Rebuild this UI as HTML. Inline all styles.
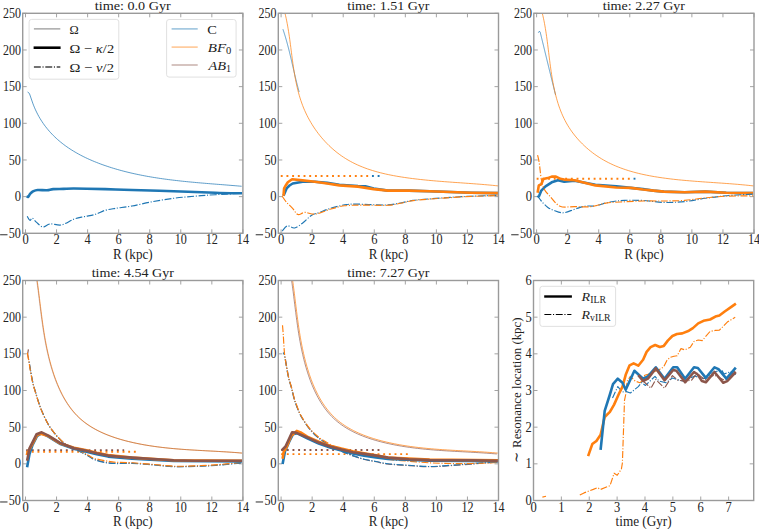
<!DOCTYPE html><html><head><meta charset="utf-8"><style>html,body{margin:0;padding:0;background:#fff;overflow:hidden}svg{display:block}</style></head><body><svg width="759" height="529" viewBox="0 0 759 529" style="font-family: &quot;Liberation Serif&quot;, serif" fill="#222">
<rect width="759" height="529" fill="#fff"/>
<line x1="25.5" y1="233.3" x2="25.5" y2="229.3" stroke="#9a9a9a" stroke-width="0.9"/>
<line x1="25.5" y1="13.3" x2="25.5" y2="17.3" stroke="#9a9a9a" stroke-width="0.9"/>
<line x1="56.55" y1="233.3" x2="56.55" y2="229.3" stroke="#9a9a9a" stroke-width="0.9"/>
<line x1="56.55" y1="13.3" x2="56.55" y2="17.3" stroke="#9a9a9a" stroke-width="0.9"/>
<line x1="87.61" y1="233.3" x2="87.61" y2="229.3" stroke="#9a9a9a" stroke-width="0.9"/>
<line x1="87.61" y1="13.3" x2="87.61" y2="17.3" stroke="#9a9a9a" stroke-width="0.9"/>
<line x1="118.67" y1="233.3" x2="118.67" y2="229.3" stroke="#9a9a9a" stroke-width="0.9"/>
<line x1="118.67" y1="13.3" x2="118.67" y2="17.3" stroke="#9a9a9a" stroke-width="0.9"/>
<line x1="149.73" y1="233.3" x2="149.73" y2="229.3" stroke="#9a9a9a" stroke-width="0.9"/>
<line x1="149.73" y1="13.3" x2="149.73" y2="17.3" stroke="#9a9a9a" stroke-width="0.9"/>
<line x1="180.78" y1="233.3" x2="180.78" y2="229.3" stroke="#9a9a9a" stroke-width="0.9"/>
<line x1="180.78" y1="13.3" x2="180.78" y2="17.3" stroke="#9a9a9a" stroke-width="0.9"/>
<line x1="211.84" y1="233.3" x2="211.84" y2="229.3" stroke="#9a9a9a" stroke-width="0.9"/>
<line x1="211.84" y1="13.3" x2="211.84" y2="17.3" stroke="#9a9a9a" stroke-width="0.9"/>
<line x1="242.9" y1="233.3" x2="242.9" y2="229.3" stroke="#9a9a9a" stroke-width="0.9"/>
<line x1="242.9" y1="13.3" x2="242.9" y2="17.3" stroke="#9a9a9a" stroke-width="0.9"/>
<line x1="22.7" y1="233.3" x2="26.7" y2="233.3" stroke="#9a9a9a" stroke-width="0.9"/>
<line x1="242.9" y1="233.3" x2="238.9" y2="233.3" stroke="#9a9a9a" stroke-width="0.9"/>
<line x1="22.7" y1="196.63" x2="26.7" y2="196.63" stroke="#9a9a9a" stroke-width="0.9"/>
<line x1="242.9" y1="196.63" x2="238.9" y2="196.63" stroke="#9a9a9a" stroke-width="0.9"/>
<line x1="22.7" y1="159.97" x2="26.7" y2="159.97" stroke="#9a9a9a" stroke-width="0.9"/>
<line x1="242.9" y1="159.97" x2="238.9" y2="159.97" stroke="#9a9a9a" stroke-width="0.9"/>
<line x1="22.7" y1="123.3" x2="26.7" y2="123.3" stroke="#9a9a9a" stroke-width="0.9"/>
<line x1="242.9" y1="123.3" x2="238.9" y2="123.3" stroke="#9a9a9a" stroke-width="0.9"/>
<line x1="22.7" y1="86.63" x2="26.7" y2="86.63" stroke="#9a9a9a" stroke-width="0.9"/>
<line x1="242.9" y1="86.63" x2="238.9" y2="86.63" stroke="#9a9a9a" stroke-width="0.9"/>
<line x1="22.7" y1="49.97" x2="26.7" y2="49.97" stroke="#9a9a9a" stroke-width="0.9"/>
<line x1="242.9" y1="49.97" x2="238.9" y2="49.97" stroke="#9a9a9a" stroke-width="0.9"/>
<line x1="22.7" y1="13.3" x2="26.7" y2="13.3" stroke="#9a9a9a" stroke-width="0.9"/>
<line x1="242.9" y1="13.3" x2="238.9" y2="13.3" stroke="#9a9a9a" stroke-width="0.9"/>
<text x="25.5" y="244.4" font-size="13.7" text-anchor="middle" textLength="6.25" lengthAdjust="spacingAndGlyphs">0</text>
<text x="56.55" y="244.4" font-size="13.7" text-anchor="middle" textLength="6.25" lengthAdjust="spacingAndGlyphs">2</text>
<text x="87.61" y="244.4" font-size="13.7" text-anchor="middle" textLength="6.25" lengthAdjust="spacingAndGlyphs">4</text>
<text x="118.67" y="244.4" font-size="13.7" text-anchor="middle" textLength="6.25" lengthAdjust="spacingAndGlyphs">6</text>
<text x="149.73" y="244.4" font-size="13.7" text-anchor="middle" textLength="6.25" lengthAdjust="spacingAndGlyphs">8</text>
<text x="180.78" y="244.4" font-size="13.7" text-anchor="middle" textLength="12.1" lengthAdjust="spacingAndGlyphs">10</text>
<text x="211.84" y="244.4" font-size="13.7" text-anchor="middle" textLength="12.1" lengthAdjust="spacingAndGlyphs">12</text>
<text x="242.9" y="244.4" font-size="13.7" text-anchor="middle" textLength="12.1" lengthAdjust="spacingAndGlyphs">14</text>
<rect x="0.1" y="234.3" width="7.4" height="0.95" fill="#222"/>
<text x="20.9" y="237.9" font-size="13.7" text-anchor="end" textLength="12.1" lengthAdjust="spacingAndGlyphs">50</text>
<text x="20.9" y="201.23" font-size="13.7" text-anchor="end" textLength="6.25" lengthAdjust="spacingAndGlyphs">0</text>
<text x="20.9" y="164.57" font-size="13.7" text-anchor="end" textLength="12.1" lengthAdjust="spacingAndGlyphs">50</text>
<text x="20.9" y="127.9" font-size="13.7" text-anchor="end" textLength="17.949999999999996" lengthAdjust="spacingAndGlyphs">100</text>
<text x="20.9" y="91.23" font-size="13.7" text-anchor="end" textLength="17.949999999999996" lengthAdjust="spacingAndGlyphs">150</text>
<text x="20.9" y="54.57" font-size="13.7" text-anchor="end" textLength="17.949999999999996" lengthAdjust="spacingAndGlyphs">200</text>
<text x="20.9" y="17.9" font-size="13.7" text-anchor="end" textLength="17.949999999999996" lengthAdjust="spacingAndGlyphs">250</text>
<text x="132.8" y="10" font-size="13.5" text-anchor="middle" textLength="76" lengthAdjust="spacingAndGlyphs">time: 0.0 Gyr</text>
<text x="132.8" y="259.2" font-size="14" text-anchor="middle" textLength="39.5" lengthAdjust="spacingAndGlyphs">R (kpc)</text>
<line x1="281.1" y1="233.3" x2="281.1" y2="229.3" stroke="#9a9a9a" stroke-width="0.9"/>
<line x1="281.1" y1="13.3" x2="281.1" y2="17.3" stroke="#9a9a9a" stroke-width="0.9"/>
<line x1="312.15" y1="233.3" x2="312.15" y2="229.3" stroke="#9a9a9a" stroke-width="0.9"/>
<line x1="312.15" y1="13.3" x2="312.15" y2="17.3" stroke="#9a9a9a" stroke-width="0.9"/>
<line x1="343.21" y1="233.3" x2="343.21" y2="229.3" stroke="#9a9a9a" stroke-width="0.9"/>
<line x1="343.21" y1="13.3" x2="343.21" y2="17.3" stroke="#9a9a9a" stroke-width="0.9"/>
<line x1="374.27" y1="233.3" x2="374.27" y2="229.3" stroke="#9a9a9a" stroke-width="0.9"/>
<line x1="374.27" y1="13.3" x2="374.27" y2="17.3" stroke="#9a9a9a" stroke-width="0.9"/>
<line x1="405.33" y1="233.3" x2="405.33" y2="229.3" stroke="#9a9a9a" stroke-width="0.9"/>
<line x1="405.33" y1="13.3" x2="405.33" y2="17.3" stroke="#9a9a9a" stroke-width="0.9"/>
<line x1="436.38" y1="233.3" x2="436.38" y2="229.3" stroke="#9a9a9a" stroke-width="0.9"/>
<line x1="436.38" y1="13.3" x2="436.38" y2="17.3" stroke="#9a9a9a" stroke-width="0.9"/>
<line x1="467.44" y1="233.3" x2="467.44" y2="229.3" stroke="#9a9a9a" stroke-width="0.9"/>
<line x1="467.44" y1="13.3" x2="467.44" y2="17.3" stroke="#9a9a9a" stroke-width="0.9"/>
<line x1="498.5" y1="233.3" x2="498.5" y2="229.3" stroke="#9a9a9a" stroke-width="0.9"/>
<line x1="498.5" y1="13.3" x2="498.5" y2="17.3" stroke="#9a9a9a" stroke-width="0.9"/>
<line x1="278.3" y1="233.3" x2="282.3" y2="233.3" stroke="#9a9a9a" stroke-width="0.9"/>
<line x1="498.5" y1="233.3" x2="494.5" y2="233.3" stroke="#9a9a9a" stroke-width="0.9"/>
<line x1="278.3" y1="196.63" x2="282.3" y2="196.63" stroke="#9a9a9a" stroke-width="0.9"/>
<line x1="498.5" y1="196.63" x2="494.5" y2="196.63" stroke="#9a9a9a" stroke-width="0.9"/>
<line x1="278.3" y1="159.97" x2="282.3" y2="159.97" stroke="#9a9a9a" stroke-width="0.9"/>
<line x1="498.5" y1="159.97" x2="494.5" y2="159.97" stroke="#9a9a9a" stroke-width="0.9"/>
<line x1="278.3" y1="123.3" x2="282.3" y2="123.3" stroke="#9a9a9a" stroke-width="0.9"/>
<line x1="498.5" y1="123.3" x2="494.5" y2="123.3" stroke="#9a9a9a" stroke-width="0.9"/>
<line x1="278.3" y1="86.63" x2="282.3" y2="86.63" stroke="#9a9a9a" stroke-width="0.9"/>
<line x1="498.5" y1="86.63" x2="494.5" y2="86.63" stroke="#9a9a9a" stroke-width="0.9"/>
<line x1="278.3" y1="49.97" x2="282.3" y2="49.97" stroke="#9a9a9a" stroke-width="0.9"/>
<line x1="498.5" y1="49.97" x2="494.5" y2="49.97" stroke="#9a9a9a" stroke-width="0.9"/>
<line x1="278.3" y1="13.3" x2="282.3" y2="13.3" stroke="#9a9a9a" stroke-width="0.9"/>
<line x1="498.5" y1="13.3" x2="494.5" y2="13.3" stroke="#9a9a9a" stroke-width="0.9"/>
<text x="281.1" y="244.4" font-size="13.7" text-anchor="middle" textLength="6.25" lengthAdjust="spacingAndGlyphs">0</text>
<text x="312.15" y="244.4" font-size="13.7" text-anchor="middle" textLength="6.25" lengthAdjust="spacingAndGlyphs">2</text>
<text x="343.21" y="244.4" font-size="13.7" text-anchor="middle" textLength="6.25" lengthAdjust="spacingAndGlyphs">4</text>
<text x="374.27" y="244.4" font-size="13.7" text-anchor="middle" textLength="6.25" lengthAdjust="spacingAndGlyphs">6</text>
<text x="405.33" y="244.4" font-size="13.7" text-anchor="middle" textLength="6.25" lengthAdjust="spacingAndGlyphs">8</text>
<text x="436.38" y="244.4" font-size="13.7" text-anchor="middle" textLength="12.1" lengthAdjust="spacingAndGlyphs">10</text>
<text x="467.44" y="244.4" font-size="13.7" text-anchor="middle" textLength="12.1" lengthAdjust="spacingAndGlyphs">12</text>
<text x="498.5" y="244.4" font-size="13.7" text-anchor="middle" textLength="12.1" lengthAdjust="spacingAndGlyphs">14</text>
<rect x="255.7" y="234.3" width="7.4" height="0.95" fill="#222"/>
<text x="276.5" y="237.9" font-size="13.7" text-anchor="end" textLength="12.1" lengthAdjust="spacingAndGlyphs">50</text>
<text x="276.5" y="201.23" font-size="13.7" text-anchor="end" textLength="6.25" lengthAdjust="spacingAndGlyphs">0</text>
<text x="276.5" y="164.57" font-size="13.7" text-anchor="end" textLength="12.1" lengthAdjust="spacingAndGlyphs">50</text>
<text x="276.5" y="127.9" font-size="13.7" text-anchor="end" textLength="17.949999999999996" lengthAdjust="spacingAndGlyphs">100</text>
<text x="276.5" y="91.23" font-size="13.7" text-anchor="end" textLength="17.949999999999996" lengthAdjust="spacingAndGlyphs">150</text>
<text x="276.5" y="54.57" font-size="13.7" text-anchor="end" textLength="17.949999999999996" lengthAdjust="spacingAndGlyphs">200</text>
<text x="276.5" y="17.9" font-size="13.7" text-anchor="end" textLength="17.949999999999996" lengthAdjust="spacingAndGlyphs">250</text>
<text x="388.4" y="10" font-size="13.5" text-anchor="middle" textLength="82.2" lengthAdjust="spacingAndGlyphs">time: 1.51 Gyr</text>
<text x="388.4" y="259.2" font-size="14" text-anchor="middle" textLength="39.5" lengthAdjust="spacingAndGlyphs">R (kpc)</text>
<line x1="536.6" y1="233.3" x2="536.6" y2="229.3" stroke="#9a9a9a" stroke-width="0.9"/>
<line x1="536.6" y1="13.3" x2="536.6" y2="17.3" stroke="#9a9a9a" stroke-width="0.9"/>
<line x1="567.65" y1="233.3" x2="567.65" y2="229.3" stroke="#9a9a9a" stroke-width="0.9"/>
<line x1="567.65" y1="13.3" x2="567.65" y2="17.3" stroke="#9a9a9a" stroke-width="0.9"/>
<line x1="598.71" y1="233.3" x2="598.71" y2="229.3" stroke="#9a9a9a" stroke-width="0.9"/>
<line x1="598.71" y1="13.3" x2="598.71" y2="17.3" stroke="#9a9a9a" stroke-width="0.9"/>
<line x1="629.77" y1="233.3" x2="629.77" y2="229.3" stroke="#9a9a9a" stroke-width="0.9"/>
<line x1="629.77" y1="13.3" x2="629.77" y2="17.3" stroke="#9a9a9a" stroke-width="0.9"/>
<line x1="660.83" y1="233.3" x2="660.83" y2="229.3" stroke="#9a9a9a" stroke-width="0.9"/>
<line x1="660.83" y1="13.3" x2="660.83" y2="17.3" stroke="#9a9a9a" stroke-width="0.9"/>
<line x1="691.88" y1="233.3" x2="691.88" y2="229.3" stroke="#9a9a9a" stroke-width="0.9"/>
<line x1="691.88" y1="13.3" x2="691.88" y2="17.3" stroke="#9a9a9a" stroke-width="0.9"/>
<line x1="722.94" y1="233.3" x2="722.94" y2="229.3" stroke="#9a9a9a" stroke-width="0.9"/>
<line x1="722.94" y1="13.3" x2="722.94" y2="17.3" stroke="#9a9a9a" stroke-width="0.9"/>
<line x1="754" y1="233.3" x2="754" y2="229.3" stroke="#9a9a9a" stroke-width="0.9"/>
<line x1="754" y1="13.3" x2="754" y2="17.3" stroke="#9a9a9a" stroke-width="0.9"/>
<line x1="533.8" y1="233.3" x2="537.8" y2="233.3" stroke="#9a9a9a" stroke-width="0.9"/>
<line x1="754" y1="233.3" x2="750" y2="233.3" stroke="#9a9a9a" stroke-width="0.9"/>
<line x1="533.8" y1="196.63" x2="537.8" y2="196.63" stroke="#9a9a9a" stroke-width="0.9"/>
<line x1="754" y1="196.63" x2="750" y2="196.63" stroke="#9a9a9a" stroke-width="0.9"/>
<line x1="533.8" y1="159.97" x2="537.8" y2="159.97" stroke="#9a9a9a" stroke-width="0.9"/>
<line x1="754" y1="159.97" x2="750" y2="159.97" stroke="#9a9a9a" stroke-width="0.9"/>
<line x1="533.8" y1="123.3" x2="537.8" y2="123.3" stroke="#9a9a9a" stroke-width="0.9"/>
<line x1="754" y1="123.3" x2="750" y2="123.3" stroke="#9a9a9a" stroke-width="0.9"/>
<line x1="533.8" y1="86.63" x2="537.8" y2="86.63" stroke="#9a9a9a" stroke-width="0.9"/>
<line x1="754" y1="86.63" x2="750" y2="86.63" stroke="#9a9a9a" stroke-width="0.9"/>
<line x1="533.8" y1="49.97" x2="537.8" y2="49.97" stroke="#9a9a9a" stroke-width="0.9"/>
<line x1="754" y1="49.97" x2="750" y2="49.97" stroke="#9a9a9a" stroke-width="0.9"/>
<line x1="533.8" y1="13.3" x2="537.8" y2="13.3" stroke="#9a9a9a" stroke-width="0.9"/>
<line x1="754" y1="13.3" x2="750" y2="13.3" stroke="#9a9a9a" stroke-width="0.9"/>
<text x="536.6" y="244.4" font-size="13.7" text-anchor="middle" textLength="6.25" lengthAdjust="spacingAndGlyphs">0</text>
<text x="567.65" y="244.4" font-size="13.7" text-anchor="middle" textLength="6.25" lengthAdjust="spacingAndGlyphs">2</text>
<text x="598.71" y="244.4" font-size="13.7" text-anchor="middle" textLength="6.25" lengthAdjust="spacingAndGlyphs">4</text>
<text x="629.77" y="244.4" font-size="13.7" text-anchor="middle" textLength="6.25" lengthAdjust="spacingAndGlyphs">6</text>
<text x="660.83" y="244.4" font-size="13.7" text-anchor="middle" textLength="6.25" lengthAdjust="spacingAndGlyphs">8</text>
<text x="691.88" y="244.4" font-size="13.7" text-anchor="middle" textLength="12.1" lengthAdjust="spacingAndGlyphs">10</text>
<text x="722.94" y="244.4" font-size="13.7" text-anchor="middle" textLength="12.1" lengthAdjust="spacingAndGlyphs">12</text>
<text x="754" y="244.4" font-size="13.7" text-anchor="middle" textLength="12.1" lengthAdjust="spacingAndGlyphs">14</text>
<rect x="511.2" y="234.3" width="7.4" height="0.95" fill="#222"/>
<text x="532" y="237.9" font-size="13.7" text-anchor="end" textLength="12.1" lengthAdjust="spacingAndGlyphs">50</text>
<text x="532" y="201.23" font-size="13.7" text-anchor="end" textLength="6.25" lengthAdjust="spacingAndGlyphs">0</text>
<text x="532" y="164.57" font-size="13.7" text-anchor="end" textLength="12.1" lengthAdjust="spacingAndGlyphs">50</text>
<text x="532" y="127.9" font-size="13.7" text-anchor="end" textLength="17.949999999999996" lengthAdjust="spacingAndGlyphs">100</text>
<text x="532" y="91.23" font-size="13.7" text-anchor="end" textLength="17.949999999999996" lengthAdjust="spacingAndGlyphs">150</text>
<text x="532" y="54.57" font-size="13.7" text-anchor="end" textLength="17.949999999999996" lengthAdjust="spacingAndGlyphs">200</text>
<text x="532" y="17.9" font-size="13.7" text-anchor="end" textLength="17.949999999999996" lengthAdjust="spacingAndGlyphs">250</text>
<text x="643.9" y="10" font-size="13.5" text-anchor="middle" textLength="82.2" lengthAdjust="spacingAndGlyphs">time: 2.27 Gyr</text>
<text x="643.9" y="259.2" font-size="14" text-anchor="middle" textLength="39.5" lengthAdjust="spacingAndGlyphs">R (kpc)</text>
<line x1="25.5" y1="500.5" x2="25.5" y2="496.5" stroke="#9a9a9a" stroke-width="0.9"/>
<line x1="25.5" y1="280.5" x2="25.5" y2="284.5" stroke="#9a9a9a" stroke-width="0.9"/>
<line x1="56.55" y1="500.5" x2="56.55" y2="496.5" stroke="#9a9a9a" stroke-width="0.9"/>
<line x1="56.55" y1="280.5" x2="56.55" y2="284.5" stroke="#9a9a9a" stroke-width="0.9"/>
<line x1="87.61" y1="500.5" x2="87.61" y2="496.5" stroke="#9a9a9a" stroke-width="0.9"/>
<line x1="87.61" y1="280.5" x2="87.61" y2="284.5" stroke="#9a9a9a" stroke-width="0.9"/>
<line x1="118.67" y1="500.5" x2="118.67" y2="496.5" stroke="#9a9a9a" stroke-width="0.9"/>
<line x1="118.67" y1="280.5" x2="118.67" y2="284.5" stroke="#9a9a9a" stroke-width="0.9"/>
<line x1="149.73" y1="500.5" x2="149.73" y2="496.5" stroke="#9a9a9a" stroke-width="0.9"/>
<line x1="149.73" y1="280.5" x2="149.73" y2="284.5" stroke="#9a9a9a" stroke-width="0.9"/>
<line x1="180.78" y1="500.5" x2="180.78" y2="496.5" stroke="#9a9a9a" stroke-width="0.9"/>
<line x1="180.78" y1="280.5" x2="180.78" y2="284.5" stroke="#9a9a9a" stroke-width="0.9"/>
<line x1="211.84" y1="500.5" x2="211.84" y2="496.5" stroke="#9a9a9a" stroke-width="0.9"/>
<line x1="211.84" y1="280.5" x2="211.84" y2="284.5" stroke="#9a9a9a" stroke-width="0.9"/>
<line x1="242.9" y1="500.5" x2="242.9" y2="496.5" stroke="#9a9a9a" stroke-width="0.9"/>
<line x1="242.9" y1="280.5" x2="242.9" y2="284.5" stroke="#9a9a9a" stroke-width="0.9"/>
<line x1="22.7" y1="500.5" x2="26.7" y2="500.5" stroke="#9a9a9a" stroke-width="0.9"/>
<line x1="242.9" y1="500.5" x2="238.9" y2="500.5" stroke="#9a9a9a" stroke-width="0.9"/>
<line x1="22.7" y1="463.83" x2="26.7" y2="463.83" stroke="#9a9a9a" stroke-width="0.9"/>
<line x1="242.9" y1="463.83" x2="238.9" y2="463.83" stroke="#9a9a9a" stroke-width="0.9"/>
<line x1="22.7" y1="427.17" x2="26.7" y2="427.17" stroke="#9a9a9a" stroke-width="0.9"/>
<line x1="242.9" y1="427.17" x2="238.9" y2="427.17" stroke="#9a9a9a" stroke-width="0.9"/>
<line x1="22.7" y1="390.5" x2="26.7" y2="390.5" stroke="#9a9a9a" stroke-width="0.9"/>
<line x1="242.9" y1="390.5" x2="238.9" y2="390.5" stroke="#9a9a9a" stroke-width="0.9"/>
<line x1="22.7" y1="353.83" x2="26.7" y2="353.83" stroke="#9a9a9a" stroke-width="0.9"/>
<line x1="242.9" y1="353.83" x2="238.9" y2="353.83" stroke="#9a9a9a" stroke-width="0.9"/>
<line x1="22.7" y1="317.17" x2="26.7" y2="317.17" stroke="#9a9a9a" stroke-width="0.9"/>
<line x1="242.9" y1="317.17" x2="238.9" y2="317.17" stroke="#9a9a9a" stroke-width="0.9"/>
<line x1="22.7" y1="280.5" x2="26.7" y2="280.5" stroke="#9a9a9a" stroke-width="0.9"/>
<line x1="242.9" y1="280.5" x2="238.9" y2="280.5" stroke="#9a9a9a" stroke-width="0.9"/>
<text x="25.5" y="511.6" font-size="13.7" text-anchor="middle" textLength="6.25" lengthAdjust="spacingAndGlyphs">0</text>
<text x="56.55" y="511.6" font-size="13.7" text-anchor="middle" textLength="6.25" lengthAdjust="spacingAndGlyphs">2</text>
<text x="87.61" y="511.6" font-size="13.7" text-anchor="middle" textLength="6.25" lengthAdjust="spacingAndGlyphs">4</text>
<text x="118.67" y="511.6" font-size="13.7" text-anchor="middle" textLength="6.25" lengthAdjust="spacingAndGlyphs">6</text>
<text x="149.73" y="511.6" font-size="13.7" text-anchor="middle" textLength="6.25" lengthAdjust="spacingAndGlyphs">8</text>
<text x="180.78" y="511.6" font-size="13.7" text-anchor="middle" textLength="12.1" lengthAdjust="spacingAndGlyphs">10</text>
<text x="211.84" y="511.6" font-size="13.7" text-anchor="middle" textLength="12.1" lengthAdjust="spacingAndGlyphs">12</text>
<text x="242.9" y="511.6" font-size="13.7" text-anchor="middle" textLength="12.1" lengthAdjust="spacingAndGlyphs">14</text>
<rect x="0.1" y="501.5" width="7.4" height="0.95" fill="#222"/>
<text x="20.9" y="505.1" font-size="13.7" text-anchor="end" textLength="12.1" lengthAdjust="spacingAndGlyphs">50</text>
<text x="20.9" y="468.43" font-size="13.7" text-anchor="end" textLength="6.25" lengthAdjust="spacingAndGlyphs">0</text>
<text x="20.9" y="431.77" font-size="13.7" text-anchor="end" textLength="12.1" lengthAdjust="spacingAndGlyphs">50</text>
<text x="20.9" y="395.1" font-size="13.7" text-anchor="end" textLength="17.949999999999996" lengthAdjust="spacingAndGlyphs">100</text>
<text x="20.9" y="358.43" font-size="13.7" text-anchor="end" textLength="17.949999999999996" lengthAdjust="spacingAndGlyphs">150</text>
<text x="20.9" y="321.77" font-size="13.7" text-anchor="end" textLength="17.949999999999996" lengthAdjust="spacingAndGlyphs">200</text>
<text x="20.9" y="285.1" font-size="13.7" text-anchor="end" textLength="17.949999999999996" lengthAdjust="spacingAndGlyphs">250</text>
<text x="132.8" y="277.2" font-size="13.5" text-anchor="middle" textLength="82.2" lengthAdjust="spacingAndGlyphs">time: 4.54 Gyr</text>
<text x="132.8" y="526.4" font-size="14" text-anchor="middle" textLength="39.5" lengthAdjust="spacingAndGlyphs">R (kpc)</text>
<line x1="281.1" y1="500.5" x2="281.1" y2="496.5" stroke="#9a9a9a" stroke-width="0.9"/>
<line x1="281.1" y1="280.5" x2="281.1" y2="284.5" stroke="#9a9a9a" stroke-width="0.9"/>
<line x1="312.15" y1="500.5" x2="312.15" y2="496.5" stroke="#9a9a9a" stroke-width="0.9"/>
<line x1="312.15" y1="280.5" x2="312.15" y2="284.5" stroke="#9a9a9a" stroke-width="0.9"/>
<line x1="343.21" y1="500.5" x2="343.21" y2="496.5" stroke="#9a9a9a" stroke-width="0.9"/>
<line x1="343.21" y1="280.5" x2="343.21" y2="284.5" stroke="#9a9a9a" stroke-width="0.9"/>
<line x1="374.27" y1="500.5" x2="374.27" y2="496.5" stroke="#9a9a9a" stroke-width="0.9"/>
<line x1="374.27" y1="280.5" x2="374.27" y2="284.5" stroke="#9a9a9a" stroke-width="0.9"/>
<line x1="405.33" y1="500.5" x2="405.33" y2="496.5" stroke="#9a9a9a" stroke-width="0.9"/>
<line x1="405.33" y1="280.5" x2="405.33" y2="284.5" stroke="#9a9a9a" stroke-width="0.9"/>
<line x1="436.38" y1="500.5" x2="436.38" y2="496.5" stroke="#9a9a9a" stroke-width="0.9"/>
<line x1="436.38" y1="280.5" x2="436.38" y2="284.5" stroke="#9a9a9a" stroke-width="0.9"/>
<line x1="467.44" y1="500.5" x2="467.44" y2="496.5" stroke="#9a9a9a" stroke-width="0.9"/>
<line x1="467.44" y1="280.5" x2="467.44" y2="284.5" stroke="#9a9a9a" stroke-width="0.9"/>
<line x1="498.5" y1="500.5" x2="498.5" y2="496.5" stroke="#9a9a9a" stroke-width="0.9"/>
<line x1="498.5" y1="280.5" x2="498.5" y2="284.5" stroke="#9a9a9a" stroke-width="0.9"/>
<line x1="278.3" y1="500.5" x2="282.3" y2="500.5" stroke="#9a9a9a" stroke-width="0.9"/>
<line x1="498.5" y1="500.5" x2="494.5" y2="500.5" stroke="#9a9a9a" stroke-width="0.9"/>
<line x1="278.3" y1="463.83" x2="282.3" y2="463.83" stroke="#9a9a9a" stroke-width="0.9"/>
<line x1="498.5" y1="463.83" x2="494.5" y2="463.83" stroke="#9a9a9a" stroke-width="0.9"/>
<line x1="278.3" y1="427.17" x2="282.3" y2="427.17" stroke="#9a9a9a" stroke-width="0.9"/>
<line x1="498.5" y1="427.17" x2="494.5" y2="427.17" stroke="#9a9a9a" stroke-width="0.9"/>
<line x1="278.3" y1="390.5" x2="282.3" y2="390.5" stroke="#9a9a9a" stroke-width="0.9"/>
<line x1="498.5" y1="390.5" x2="494.5" y2="390.5" stroke="#9a9a9a" stroke-width="0.9"/>
<line x1="278.3" y1="353.83" x2="282.3" y2="353.83" stroke="#9a9a9a" stroke-width="0.9"/>
<line x1="498.5" y1="353.83" x2="494.5" y2="353.83" stroke="#9a9a9a" stroke-width="0.9"/>
<line x1="278.3" y1="317.17" x2="282.3" y2="317.17" stroke="#9a9a9a" stroke-width="0.9"/>
<line x1="498.5" y1="317.17" x2="494.5" y2="317.17" stroke="#9a9a9a" stroke-width="0.9"/>
<line x1="278.3" y1="280.5" x2="282.3" y2="280.5" stroke="#9a9a9a" stroke-width="0.9"/>
<line x1="498.5" y1="280.5" x2="494.5" y2="280.5" stroke="#9a9a9a" stroke-width="0.9"/>
<text x="281.1" y="511.6" font-size="13.7" text-anchor="middle" textLength="6.25" lengthAdjust="spacingAndGlyphs">0</text>
<text x="312.15" y="511.6" font-size="13.7" text-anchor="middle" textLength="6.25" lengthAdjust="spacingAndGlyphs">2</text>
<text x="343.21" y="511.6" font-size="13.7" text-anchor="middle" textLength="6.25" lengthAdjust="spacingAndGlyphs">4</text>
<text x="374.27" y="511.6" font-size="13.7" text-anchor="middle" textLength="6.25" lengthAdjust="spacingAndGlyphs">6</text>
<text x="405.33" y="511.6" font-size="13.7" text-anchor="middle" textLength="6.25" lengthAdjust="spacingAndGlyphs">8</text>
<text x="436.38" y="511.6" font-size="13.7" text-anchor="middle" textLength="12.1" lengthAdjust="spacingAndGlyphs">10</text>
<text x="467.44" y="511.6" font-size="13.7" text-anchor="middle" textLength="12.1" lengthAdjust="spacingAndGlyphs">12</text>
<text x="498.5" y="511.6" font-size="13.7" text-anchor="middle" textLength="12.1" lengthAdjust="spacingAndGlyphs">14</text>
<rect x="255.7" y="501.5" width="7.4" height="0.95" fill="#222"/>
<text x="276.5" y="505.1" font-size="13.7" text-anchor="end" textLength="12.1" lengthAdjust="spacingAndGlyphs">50</text>
<text x="276.5" y="468.43" font-size="13.7" text-anchor="end" textLength="6.25" lengthAdjust="spacingAndGlyphs">0</text>
<text x="276.5" y="431.77" font-size="13.7" text-anchor="end" textLength="12.1" lengthAdjust="spacingAndGlyphs">50</text>
<text x="276.5" y="395.1" font-size="13.7" text-anchor="end" textLength="17.949999999999996" lengthAdjust="spacingAndGlyphs">100</text>
<text x="276.5" y="358.43" font-size="13.7" text-anchor="end" textLength="17.949999999999996" lengthAdjust="spacingAndGlyphs">150</text>
<text x="276.5" y="321.77" font-size="13.7" text-anchor="end" textLength="17.949999999999996" lengthAdjust="spacingAndGlyphs">200</text>
<text x="276.5" y="285.1" font-size="13.7" text-anchor="end" textLength="17.949999999999996" lengthAdjust="spacingAndGlyphs">250</text>
<text x="388.4" y="277.2" font-size="13.5" text-anchor="middle" textLength="82.2" lengthAdjust="spacingAndGlyphs">time: 7.27 Gyr</text>
<text x="388.4" y="526.4" font-size="14" text-anchor="middle" textLength="39.5" lengthAdjust="spacingAndGlyphs">R (kpc)</text>
<line x1="533.5" y1="500.5" x2="533.5" y2="496.5" stroke="#9a9a9a" stroke-width="0.9"/>
<line x1="533.5" y1="280.5" x2="533.5" y2="284.5" stroke="#9a9a9a" stroke-width="0.9"/>
<line x1="561.37" y1="500.5" x2="561.37" y2="496.5" stroke="#9a9a9a" stroke-width="0.9"/>
<line x1="561.37" y1="280.5" x2="561.37" y2="284.5" stroke="#9a9a9a" stroke-width="0.9"/>
<line x1="589.25" y1="500.5" x2="589.25" y2="496.5" stroke="#9a9a9a" stroke-width="0.9"/>
<line x1="589.25" y1="280.5" x2="589.25" y2="284.5" stroke="#9a9a9a" stroke-width="0.9"/>
<line x1="617.12" y1="500.5" x2="617.12" y2="496.5" stroke="#9a9a9a" stroke-width="0.9"/>
<line x1="617.12" y1="280.5" x2="617.12" y2="284.5" stroke="#9a9a9a" stroke-width="0.9"/>
<line x1="644.99" y1="500.5" x2="644.99" y2="496.5" stroke="#9a9a9a" stroke-width="0.9"/>
<line x1="644.99" y1="280.5" x2="644.99" y2="284.5" stroke="#9a9a9a" stroke-width="0.9"/>
<line x1="672.87" y1="500.5" x2="672.87" y2="496.5" stroke="#9a9a9a" stroke-width="0.9"/>
<line x1="672.87" y1="280.5" x2="672.87" y2="284.5" stroke="#9a9a9a" stroke-width="0.9"/>
<line x1="700.74" y1="500.5" x2="700.74" y2="496.5" stroke="#9a9a9a" stroke-width="0.9"/>
<line x1="700.74" y1="280.5" x2="700.74" y2="284.5" stroke="#9a9a9a" stroke-width="0.9"/>
<line x1="728.61" y1="500.5" x2="728.61" y2="496.5" stroke="#9a9a9a" stroke-width="0.9"/>
<line x1="728.61" y1="280.5" x2="728.61" y2="284.5" stroke="#9a9a9a" stroke-width="0.9"/>
<line x1="533.5" y1="500.5" x2="537.5" y2="500.5" stroke="#9a9a9a" stroke-width="0.9"/>
<line x1="753.7" y1="500.5" x2="749.7" y2="500.5" stroke="#9a9a9a" stroke-width="0.9"/>
<line x1="533.5" y1="463.83" x2="537.5" y2="463.83" stroke="#9a9a9a" stroke-width="0.9"/>
<line x1="753.7" y1="463.83" x2="749.7" y2="463.83" stroke="#9a9a9a" stroke-width="0.9"/>
<line x1="533.5" y1="427.17" x2="537.5" y2="427.17" stroke="#9a9a9a" stroke-width="0.9"/>
<line x1="753.7" y1="427.17" x2="749.7" y2="427.17" stroke="#9a9a9a" stroke-width="0.9"/>
<line x1="533.5" y1="390.5" x2="537.5" y2="390.5" stroke="#9a9a9a" stroke-width="0.9"/>
<line x1="753.7" y1="390.5" x2="749.7" y2="390.5" stroke="#9a9a9a" stroke-width="0.9"/>
<line x1="533.5" y1="353.83" x2="537.5" y2="353.83" stroke="#9a9a9a" stroke-width="0.9"/>
<line x1="753.7" y1="353.83" x2="749.7" y2="353.83" stroke="#9a9a9a" stroke-width="0.9"/>
<line x1="533.5" y1="317.17" x2="537.5" y2="317.17" stroke="#9a9a9a" stroke-width="0.9"/>
<line x1="753.7" y1="317.17" x2="749.7" y2="317.17" stroke="#9a9a9a" stroke-width="0.9"/>
<line x1="533.5" y1="280.5" x2="537.5" y2="280.5" stroke="#9a9a9a" stroke-width="0.9"/>
<line x1="753.7" y1="280.5" x2="749.7" y2="280.5" stroke="#9a9a9a" stroke-width="0.9"/>
<text x="533.5" y="511.6" font-size="13.7" text-anchor="middle" textLength="6.25" lengthAdjust="spacingAndGlyphs">0</text>
<text x="561.37" y="511.6" font-size="13.7" text-anchor="middle" textLength="6.25" lengthAdjust="spacingAndGlyphs">1</text>
<text x="589.25" y="511.6" font-size="13.7" text-anchor="middle" textLength="6.25" lengthAdjust="spacingAndGlyphs">2</text>
<text x="617.12" y="511.6" font-size="13.7" text-anchor="middle" textLength="6.25" lengthAdjust="spacingAndGlyphs">3</text>
<text x="644.99" y="511.6" font-size="13.7" text-anchor="middle" textLength="6.25" lengthAdjust="spacingAndGlyphs">4</text>
<text x="672.87" y="511.6" font-size="13.7" text-anchor="middle" textLength="6.25" lengthAdjust="spacingAndGlyphs">5</text>
<text x="700.74" y="511.6" font-size="13.7" text-anchor="middle" textLength="6.25" lengthAdjust="spacingAndGlyphs">6</text>
<text x="728.61" y="511.6" font-size="13.7" text-anchor="middle" textLength="6.25" lengthAdjust="spacingAndGlyphs">7</text>
<text x="531.7" y="505.1" font-size="13.7" text-anchor="end" textLength="6.25" lengthAdjust="spacingAndGlyphs">0</text>
<text x="531.7" y="468.43" font-size="13.7" text-anchor="end" textLength="6.25" lengthAdjust="spacingAndGlyphs">1</text>
<text x="531.7" y="431.77" font-size="13.7" text-anchor="end" textLength="6.25" lengthAdjust="spacingAndGlyphs">2</text>
<text x="531.7" y="395.1" font-size="13.7" text-anchor="end" textLength="6.25" lengthAdjust="spacingAndGlyphs">3</text>
<text x="531.7" y="358.43" font-size="13.7" text-anchor="end" textLength="6.25" lengthAdjust="spacingAndGlyphs">4</text>
<text x="531.7" y="321.77" font-size="13.7" text-anchor="end" textLength="6.25" lengthAdjust="spacingAndGlyphs">5</text>
<text x="531.7" y="285.1" font-size="13.7" text-anchor="end" textLength="6.25" lengthAdjust="spacingAndGlyphs">6</text>
<text x="643.6" y="526.4" font-size="14" text-anchor="middle" textLength="56" lengthAdjust="spacingAndGlyphs">time (Gyr)</text>
<text transform="translate(521.3,390) rotate(-90)" font-size="13.5" text-anchor="middle" textLength="145" lengthAdjust="spacingAndGlyphs">∼ Resonance location (kpc)</text>
<path d="M27.60,92.00 L28.60,92.60 L29.60,94.00 L32.74,103.12 L33.51,105.16 L34.32,107.16 L35.16,109.12 L36.05,111.04 L36.97,112.92 L37.93,114.77 L38.92,116.58 L39.95,118.35 L41.01,120.09 L42.11,121.79 L43.24,123.45 L44.40,125.08 L45.60,126.68 L46.83,128.24 L48.08,129.77 L49.37,131.27 L50.68,132.73 L52.03,134.16 L53.40,135.56 L54.80,136.93 L56.22,138.27 L57.67,139.58 L59.15,140.85 L60.65,142.10 L62.17,143.32 L63.72,144.52 L65.29,145.68 L66.88,146.82 L68.49,147.93 L70.12,149.01 L71.77,150.07 L73.44,151.10 L75.13,152.11 L76.83,153.09 L78.55,154.05 L80.29,154.99 L82.04,155.90 L83.81,156.79 L85.59,157.66 L87.39,158.50 L89.19,159.33 L91.01,160.13 L92.84,160.91 L94.68,161.68 L96.53,162.42 L98.39,163.15 L100.26,163.86 L102.14,164.55 L104.02,165.22 L105.91,165.87 L107.80,166.51 L109.70,167.13 L111.61,167.74 L113.52,168.33 L115.44,168.90 L117.36,169.46 L119.29,170.01 L121.22,170.54 L123.16,171.05 L125.10,171.55 L127.04,172.04 L128.99,172.51 L130.95,172.97 L132.90,173.42 L134.86,173.86 L136.83,174.28 L138.80,174.69 L140.77,175.09 L142.74,175.48 L144.72,175.85 L146.70,176.22 L148.68,176.57 L150.66,176.91 L152.65,177.25 L154.64,177.57 L156.63,177.89 L158.62,178.19 L160.61,178.49 L162.61,178.77 L164.60,179.05 L166.60,179.32 L168.60,179.58 L170.60,179.84 L172.60,180.08 L174.60,180.32 L176.60,180.56 L178.60,180.78 L180.59,181.00 L182.59,181.22 L184.59,181.43 L186.59,181.63 L188.59,181.83 L190.59,182.02 L192.58,182.21 L194.58,182.39 L196.57,182.58 L198.56,182.75 L200.55,182.93 L202.54,183.10 L204.52,183.26 L206.51,183.43 L208.49,183.59 L210.47,183.75 L212.44,183.91 L214.42,184.07 L216.39,184.22 L218.35,184.38 L220.32,184.53 L222.28,184.68 L224.23,184.84 L226.19,184.99 L228.13,185.15 L230.08,185.30 L232.02,185.46 L233.95,185.62 L235.88,185.77 L237.81,185.94 L239.73,186.10 L241.65,186.26" fill="none" stroke="#1f77b4" stroke-width="0.9" stroke-linejoin="round" stroke-linecap="butt" stroke-opacity="0.8"/>
<path d="M26.60,196.20 C26.87,196.30 27.58,197.22 28.20,196.80 C28.82,196.38 29.43,194.63 30.30,193.70 C31.17,192.77 32.18,191.82 33.40,191.20 C34.62,190.58 35.33,190.17 37.60,190.00 C39.87,189.83 44.40,190.35 47.00,190.20 C49.60,190.05 50.43,189.32 53.20,189.10 C55.97,188.88 60.13,189.00 63.60,188.90 C67.07,188.80 67.07,188.47 74.00,188.50 C80.93,188.53 95.53,188.85 105.20,189.10 C114.87,189.35 120.60,189.65 132.00,190.00 C143.40,190.35 159.73,190.75 173.60,191.20 C187.47,191.65 203.80,192.35 215.20,192.70 C226.60,193.05 237.53,193.20 242.00,193.30" fill="none" stroke="#1f77b4" stroke-width="2.6" stroke-linejoin="round" stroke-linecap="butt"/>
<path d="M27.20,216.20 C27.65,216.88 29.03,219.97 29.90,220.30 C30.77,220.63 31.28,217.85 32.40,218.20 C33.52,218.55 34.87,220.93 36.60,222.40 C38.33,223.87 40.55,226.75 42.80,227.00 C45.05,227.25 46.98,224.25 50.10,223.90 C53.22,223.55 57.52,225.70 61.50,224.90 C65.48,224.10 70.18,220.48 74.00,219.10 C77.82,217.72 80.93,217.37 84.40,216.60 C87.87,215.83 91.33,215.55 94.80,214.50 C98.27,213.45 101.73,211.33 105.20,210.30 C108.67,209.27 111.13,209.02 115.60,208.30 C120.07,207.58 125.80,207.12 132.00,206.00 C138.20,204.88 145.87,202.88 152.80,201.60 C159.73,200.32 166.67,199.20 173.60,198.30 C180.53,197.40 187.47,196.80 194.40,196.20 C201.33,195.60 207.27,195.18 215.20,194.70 C223.13,194.22 237.53,193.53 242.00,193.30" fill="none" stroke="#1f77b4" stroke-width="1.15" stroke-linejoin="round" stroke-linecap="butt" stroke-dasharray="6.9,1.7,1.1,1.7"/>
<path d="M282.93,29.19 L283.10,29.70 L283.27,30.22 L283.44,30.73 L283.61,31.24 L283.78,31.75 L283.94,32.27 L284.11,32.78 L284.27,33.30 L284.43,33.82 L284.59,34.33 L284.75,34.85 L284.91,35.37 L285.07,35.89 L285.23,36.40 L285.38,36.92 L285.54,37.44 L285.69,37.96 L285.84,38.48 L285.99,39.01 L286.14,39.53 L286.29,40.05 L286.44,40.57 L286.59,41.10 L286.73,41.62 L286.88,42.15 L287.02,42.67 L287.16,43.20 L287.31,43.72 L287.45,44.25 L287.59,44.77 L287.73,45.30 L287.87,45.83 L288.01,46.36 L288.14,46.88 L288.28,47.41 L288.42,47.94 L288.55,48.47 L288.69,49.00 L288.82,49.53 L288.95,50.06 L289.09,50.59 L289.22,51.12 L289.35,51.65 L289.48,52.18 L289.61,52.71 L289.74,53.25 L289.87,53.78 L290.00,54.31 L290.13,54.84 L290.26,55.37 L290.38,55.91 L290.51,56.44 L290.64,56.97 L290.77,57.51 L290.89,58.04 L291.02,58.57 L291.14,59.11 L291.27,59.64 L291.39,60.18 L291.52,60.71 L291.64,61.24 L291.77,61.78 L291.89,62.31 L292.02,62.85 L292.14,63.38 L292.26,63.92 L292.39,64.45 L292.51,64.99 L292.63,65.52 L292.76,66.05 L292.88,66.59 L293.00,67.12 L293.13,67.66 L293.25,68.19 L293.37,68.73 L293.50,69.26 L293.62,69.80 L293.75,70.33 L293.87,70.87 L293.99,71.40 L294.12,71.93 L294.24,72.47 L294.37,73.00 L294.49,73.54 L294.62,74.07 L294.74,74.60 L294.87,75.14 L294.99,75.67 L295.12,76.20 L295.25,76.74 L295.37,77.27 L295.50,77.80 L295.63,78.33 L295.76,78.87 L295.89,79.40 L296.02,79.93 L296.15,80.46 L296.28,80.99 L296.41,81.52 L296.54,82.05 L296.67,82.58 L296.80,83.11 L296.94,83.64 L297.07,84.17 L297.20,84.70 L297.34,85.23 L297.47,85.76 L297.61,86.29 L297.75,86.82 L297.89,87.34 L298.03,87.87 L298.16,88.40 L298.30,88.92 L298.45,89.45 L298.59,89.97 L298.73,90.50 L298.87,91.02 L299.02,91.55 L299.16,92.07" fill="none" stroke="#1f77b4" stroke-width="0.9" stroke-linejoin="round" stroke-linecap="butt" stroke-opacity="0.8"/>
<path d="M284.98,13.22 L285.59,15.77 L286.16,18.32 L286.69,20.90 L287.20,23.50 L287.67,26.10 L288.12,28.73 L288.55,31.36 L288.96,34.01 L289.35,36.67 L289.72,39.33 L290.08,42.01 L290.44,44.69 L290.79,47.38 L291.13,50.07 L291.48,52.76 L291.83,55.46 L292.18,58.16 L292.54,60.86 L292.91,63.55 L293.30,66.25 L293.70,68.94 L294.12,71.62 L294.56,74.30 L295.03,76.97 L295.53,79.64 L296.06,82.29 L296.62,84.93 L297.21,87.56 L297.85,90.18 L298.53,92.79 L299.25,95.37 L300.02,97.94 L300.85,100.50 L301.72,103.03 L302.65,105.54 L303.64,108.04 L304.69,110.51 L305.80,112.95 L306.97,115.37 L308.20,117.76 L309.49,120.12 L310.83,122.45 L312.22,124.75 L313.67,127.01 L315.18,129.24 L316.74,131.43 L318.34,133.58 L320.00,135.69 L321.71,137.76 L323.47,139.78 L325.28,141.76 L327.13,143.69 L329.03,145.58 L330.97,147.41 L332.96,149.19 L335.00,150.91 L337.07,152.58 L339.19,154.19 L341.34,155.75 L343.54,157.24 L345.78,158.67 L348.05,160.04 L350.36,161.34 L352.71,162.59 L355.08,163.77 L357.49,164.90 L359.93,165.96 L362.40,166.98 L364.90,167.94 L367.42,168.86 L369.96,169.72 L372.52,170.54 L375.11,171.31 L377.71,172.04 L380.33,172.73 L382.96,173.39 L385.60,174.00 L388.26,174.58 L390.93,175.13 L393.60,175.64 L396.28,176.13 L398.97,176.59 L401.66,177.02 L404.34,177.43 L407.03,177.82 L409.72,178.19 L412.40,178.54 L415.08,178.87 L417.76,179.18 L420.44,179.49 L423.11,179.77 L425.78,180.04 L428.45,180.31 L431.12,180.55 L433.79,180.79 L436.46,181.02 L439.12,181.24 L441.79,181.45 L444.45,181.66 L447.12,181.86 L449.78,182.06 L452.44,182.25 L455.11,182.44 L457.78,182.62 L460.44,182.81 L463.11,183.00 L465.78,183.19 L468.45,183.38 L471.12,183.57 L473.80,183.77 L476.47,183.97 L479.15,184.18 L481.83,184.39 L484.52,184.61 L487.21,184.85 L489.90,185.09 L492.59,185.34 L495.29,185.61 L497.99,185.88" fill="none" stroke="#ff7f0e" stroke-width="0.9" stroke-linejoin="round" stroke-linecap="butt" stroke-opacity="0.8"/>
<line x1="371.95" y1="176.00" x2="379.55" y2="176.00" stroke="#1f77b4" stroke-width="1.9" stroke-dasharray="1.9,3.8000000000000003"/>
<line x1="280.75" y1="176.00" x2="368.15" y2="176.00" stroke="#ff7f0e" stroke-width="1.9" stroke-dasharray="1.9,3.8000000000000003"/>
<path d="M283.50,195.80 L286.60,188.40 L289.50,185.50 L292.70,183.50 L302.60,181.70 L314.90,181.70 L327.20,182.90 L339.40,184.70 L358.00,186.00 L365.30,186.20 L373.70,188.50 L388.00,190.60 L408.80,190.60 L429.60,191.20 L450.40,192.00 L471.20,192.70 L498.00,193.10" fill="none" stroke="#1f77b4" stroke-width="2.6" stroke-linejoin="round" stroke-linecap="butt"/>
<path d="M283.50,195.80 L284.10,188.40 L285.40,186.00 L287.80,182.30 L292.10,179.20 L302.60,180.40 L314.90,181.70 L327.20,183.50 L339.40,185.40 L358.00,186.60 L373.70,189.10 L388.00,190.60 L408.80,190.60 L429.60,191.20 L450.40,192.00 L471.20,192.70 L498.00,193.10" fill="none" stroke="#ff7f0e" stroke-width="2.6" stroke-linejoin="round" stroke-linecap="butt"/>
<path d="M282.20,231.10 C283.07,230.23 285.33,226.42 287.40,225.90 C289.47,225.38 292.00,228.52 294.60,228.00 C297.20,227.48 300.22,224.88 303.00,222.80 C305.78,220.72 308.53,217.23 311.30,215.50 C314.07,213.77 316.13,213.68 319.60,212.40 C323.07,211.12 327.60,209.12 332.10,207.80 C336.60,206.48 342.45,205.12 346.60,204.50 C350.75,203.88 352.83,204.07 357.00,204.10 C361.17,204.13 366.43,204.57 371.60,204.70 C376.77,204.83 383.18,205.18 388.00,204.90 C392.82,204.62 396.33,203.75 400.50,203.00 C404.67,202.25 408.15,201.08 413.00,200.40 C417.85,199.72 423.37,199.40 429.60,198.90 C435.83,198.40 443.47,197.85 450.40,197.40 C457.33,196.95 463.27,196.53 471.20,196.20 C479.13,195.87 493.53,195.53 498.00,195.40" fill="none" stroke="#1f77b4" stroke-width="1.15" stroke-linejoin="round" stroke-linecap="butt" stroke-dasharray="6.9,1.7,1.1,1.7"/>
<path d="M282.20,196.20 C282.88,197.17 284.57,199.98 286.30,202.00 C288.03,204.02 290.68,206.22 292.60,208.30 C294.52,210.38 295.73,213.82 297.80,214.50 C299.87,215.18 302.07,212.47 305.00,212.40 C307.93,212.33 311.23,214.62 315.40,214.10 C319.57,213.58 325.15,210.68 330.00,209.30 C334.85,207.92 339.30,206.50 344.50,205.80 C349.70,205.10 353.95,205.18 361.20,205.10 C368.45,205.02 381.45,205.62 388.00,205.30 C394.55,204.98 396.33,203.98 400.50,203.20 C404.67,202.42 408.15,201.28 413.00,200.60 C417.85,199.92 423.37,199.60 429.60,199.10 C435.83,198.60 443.47,198.05 450.40,197.60 C457.33,197.15 463.27,196.73 471.20,196.40 C479.13,196.07 493.53,195.73 498.00,195.60" fill="none" stroke="#ff7f0e" stroke-width="1.15" stroke-linejoin="round" stroke-linecap="butt" stroke-dasharray="6.9,1.7,1.1,1.7"/>
<path d="M538.30,32.70 L539.40,31.20 L540.30,32.40 L540.27,32.41 L540.40,32.93 L540.52,33.46 L540.65,33.99 L540.78,34.52 L540.91,35.04 L541.04,35.57 L541.16,36.10 L541.29,36.62 L541.42,37.15 L541.55,37.68 L541.68,38.20 L541.80,38.73 L541.93,39.26 L542.06,39.79 L542.19,40.31 L542.32,40.84 L542.44,41.37 L542.57,41.89 L542.70,42.42 L542.83,42.95 L542.96,43.48 L543.08,44.00 L543.21,44.53 L543.34,45.06 L543.47,45.58 L543.59,46.11 L543.72,46.64 L543.85,47.16 L543.98,47.69 L544.11,48.22 L544.23,48.75 L544.36,49.27 L544.49,49.80 L544.62,50.33 L544.75,50.85 L544.87,51.38 L545.00,51.91 L545.13,52.44 L545.26,52.96 L545.39,53.49 L545.51,54.02 L545.64,54.54 L545.77,55.07 L545.90,55.60 L546.03,56.12 L546.15,56.65 L546.28,57.18 L546.41,57.71 L546.54,58.23 L546.67,58.76 L546.79,59.29 L546.92,59.81 L547.05,60.34 L547.18,60.87 L547.31,61.39 L547.43,61.92 L547.56,62.45 L547.69,62.98 L547.82,63.50 L547.95,64.03 L548.08,64.56 L548.20,65.08 L548.33,65.61 L548.46,66.14 L548.59,66.66 L548.72,67.19 L548.85,67.72 L548.98,68.25 L549.10,68.77 L549.23,69.30 L549.36,69.83 L549.49,70.35 L549.62,70.88 L549.75,71.41 L549.88,71.93 L550.00,72.46 L550.13,72.99 L550.26,73.51 L550.39,74.04 L550.52,74.57 L550.65,75.09 L550.78,75.62 L550.91,76.15 L551.04,76.67 L551.17,77.20 L551.29,77.73 L551.42,78.25 L551.55,78.78 L551.68,79.31 L551.81,79.83 L551.94,80.36 L552.07,80.89 L552.20,81.41 L552.33,81.94 L552.46,82.47 L552.59,82.99 L552.72,83.52 L552.85,84.05 L552.98,84.57 L553.11,85.10 L553.24,85.63 L553.37,86.15 L553.50,86.68 L553.63,87.21 L553.76,87.73 L553.89,88.26 L554.02,88.79 L554.15,89.31 L554.28,89.84 L554.41,90.37 L554.54,90.89 L554.67,91.42 L554.80,91.95 L554.93,92.47 L555.06,93.00 L555.19,93.52 L555.32,94.05 L555.46,94.58 L555.59,95.10" fill="none" stroke="#1f77b4" stroke-width="0.9" stroke-linejoin="round" stroke-linecap="butt" stroke-opacity="0.8"/>
<path d="M542.31,13.33 L542.91,15.80 L543.46,18.29 L543.99,20.81 L544.48,23.36 L544.95,25.93 L545.39,28.52 L545.81,31.13 L546.21,33.76 L546.59,36.40 L546.96,39.06 L547.32,41.74 L547.66,44.42 L548.00,47.12 L548.34,49.83 L548.67,52.54 L549.01,55.26 L549.34,57.99 L549.69,60.72 L550.04,63.45 L550.40,66.17 L550.78,68.90 L551.17,71.62 L551.58,74.34 L552.01,77.05 L552.47,79.76 L552.95,82.45 L553.46,85.13 L554.00,87.80 L554.58,90.46 L555.19,93.10 L555.84,95.72 L556.54,98.32 L557.28,100.90 L558.06,103.46 L558.89,105.99 L559.78,108.50 L560.72,110.99 L561.72,113.44 L562.78,115.86 L563.90,118.26 L565.08,120.62 L566.33,122.94 L567.65,125.23 L569.04,127.48 L570.50,129.69 L572.02,131.86 L573.61,133.98 L575.26,136.07 L576.97,138.11 L578.73,140.11 L580.55,142.06 L582.43,143.96 L584.36,145.81 L586.33,147.62 L588.36,149.37 L590.43,151.06 L592.54,152.71 L594.70,154.30 L596.90,155.83 L599.13,157.31 L601.40,158.72 L603.70,160.08 L606.04,161.37 L608.41,162.61 L610.81,163.78 L613.23,164.91 L615.68,165.97 L618.16,166.99 L620.66,167.95 L623.18,168.87 L625.72,169.73 L628.28,170.56 L630.86,171.33 L633.46,172.07 L636.07,172.77 L638.69,173.42 L641.33,174.05 L643.97,174.63 L646.63,175.18 L649.29,175.70 L651.96,176.19 L654.64,176.66 L657.31,177.09 L659.99,177.51 L662.67,177.89 L665.35,178.26 L668.03,178.61 L670.71,178.94 L673.38,179.25 L676.06,179.55 L678.73,179.83 L681.41,180.09 L684.08,180.34 L686.75,180.58 L689.42,180.81 L692.09,181.03 L694.76,181.24 L697.43,181.45 L700.09,181.64 L702.76,181.84 L705.43,182.02 L708.10,182.21 L710.77,182.39 L713.43,182.57 L716.10,182.75 L718.77,182.94 L721.44,183.12 L724.11,183.31 L726.78,183.50 L729.46,183.70 L732.13,183.91 L734.80,184.12 L737.48,184.34 L740.15,184.57 L742.83,184.82 L745.51,185.07 L748.19,185.34 L750.87,185.63 L753.55,185.93" fill="none" stroke="#ff7f0e" stroke-width="0.9" stroke-linejoin="round" stroke-linecap="butt" stroke-opacity="0.8"/>
<line x1="633.55" y1="178.70" x2="635.45" y2="178.70" stroke="#1f77b4" stroke-width="1.9" stroke-dasharray="1.9,3.8000000000000003"/>
<line x1="536.65" y1="178.70" x2="629.75" y2="178.70" stroke="#ff7f0e" stroke-width="1.9" stroke-dasharray="1.9,3.8000000000000003"/>
<path d="M537.60,197.40 L539.20,195.80 L541.30,190.60 L545.50,186.40 L551.70,182.30 L558.00,180.20 L564.20,181.80 L574.60,180.80 L595.40,184.80 L616.20,186.40 L643.00,189.10 L653.40,190.60 L663.80,191.60 L684.60,192.20 L705.40,191.60 L726.20,192.70 L753.00,193.10" fill="none" stroke="#1f77b4" stroke-width="2.6" stroke-linejoin="round" stroke-linecap="butt"/>
<path d="M537.60,192.70 L538.80,185.40 L541.30,184.30 L543.40,179.10 L547.60,178.10 L551.70,176.60 L555.90,176.60 L560.00,178.70 L564.20,179.60 L574.60,180.20 L595.40,185.40 L616.20,187.50 L630.70,187.90 L643.00,189.50 L653.40,190.60 L663.80,191.60 L684.60,192.20 L705.40,191.60 L726.20,192.70 L753.00,193.10" fill="none" stroke="#ff7f0e" stroke-width="2.6" stroke-linejoin="round" stroke-linecap="butt"/>
<path d="M537.60,195.80 C538.22,196.67 539.63,199.10 541.30,201.00 C542.97,202.90 545.52,205.65 547.60,207.20 C549.68,208.75 551.20,209.37 553.80,210.30 C556.40,211.23 559.73,212.97 563.20,212.80 C566.67,212.63 570.97,210.40 574.60,209.30 C578.23,208.20 581.53,206.78 585.00,206.20 C588.47,205.62 591.23,206.50 595.40,205.80 C599.57,205.10 605.15,202.90 610.00,202.00 C614.85,201.10 619.00,200.65 624.50,200.40 C630.00,200.15 636.45,200.17 643.00,200.50 C649.55,200.83 656.87,202.22 663.80,202.40 C670.73,202.58 677.67,202.28 684.60,201.60 C691.53,200.92 698.47,199.27 705.40,198.30 C712.33,197.33 718.27,196.50 726.20,195.80 C734.13,195.10 748.53,194.38 753.00,194.10" fill="none" stroke="#1f77b4" stroke-width="1.15" stroke-linejoin="round" stroke-linecap="butt" stroke-dasharray="6.9,1.7,1.1,1.7"/>
<path d="M537.60,155.20 C537.87,156.42 538.58,158.52 539.20,162.50 C539.82,166.48 540.43,174.60 541.30,179.10 C542.17,183.60 543.02,186.72 544.40,189.50 C545.78,192.28 547.00,193.02 549.60,195.80 C552.20,198.58 555.83,204.40 560.00,206.20 C564.17,208.00 569.40,206.53 574.60,206.60 C579.80,206.67 586.00,207.18 591.20,206.60 C596.40,206.02 600.95,203.87 605.80,203.10 C610.65,202.33 614.10,202.35 620.30,202.00 C626.50,201.65 635.75,201.17 643.00,201.00 C650.25,200.83 656.87,201.10 663.80,201.00 C670.73,200.90 677.67,200.92 684.60,200.40 C691.53,199.88 698.47,198.60 705.40,197.90 C712.33,197.20 718.27,196.55 726.20,196.20 C734.13,195.85 748.53,195.87 753.00,195.80" fill="none" stroke="#ff7f0e" stroke-width="1.15" stroke-linejoin="round" stroke-linecap="butt" stroke-dasharray="6.9,1.7,1.1,1.7"/>
<path d="M37.10,280.16 L37.47,282.76 L37.82,285.36 L38.17,287.97 L38.51,290.58 L38.84,293.19 L39.17,295.81 L39.49,298.43 L39.81,301.05 L40.14,303.67 L40.46,306.30 L40.79,308.92 L41.12,311.55 L41.45,314.18 L41.80,316.81 L42.15,319.44 L42.51,322.07 L42.88,324.71 L43.26,327.34 L43.66,329.97 L44.07,332.60 L44.50,335.23 L44.95,337.86 L45.41,340.49 L45.90,343.12 L46.41,345.74 L46.95,348.37 L47.50,350.99 L48.09,353.61 L48.70,356.23 L49.34,358.84 L50.02,361.46 L50.72,364.07 L51.46,366.67 L52.24,369.27 L53.05,371.87 L53.89,374.45 L54.78,377.02 L55.71,379.57 L56.68,382.11 L57.69,384.62 L58.75,387.10 L59.85,389.56 L61.00,391.98 L62.20,394.37 L63.45,396.72 L64.76,399.04 L66.11,401.30 L67.52,403.52 L68.99,405.69 L70.51,407.81 L72.09,409.87 L73.74,411.87 L75.44,413.81 L77.21,415.68 L79.04,417.48 L80.94,419.22 L82.90,420.88 L84.92,422.47 L87.00,424.00 L89.14,425.46 L91.32,426.86 L93.56,428.20 L95.84,429.47 L98.17,430.69 L100.54,431.85 L102.94,432.96 L105.38,434.02 L107.85,435.02 L110.36,435.98 L112.89,436.89 L115.44,437.76 L118.01,438.58 L120.60,439.36 L123.20,440.10 L125.82,440.80 L128.45,441.47 L131.08,442.10 L133.72,442.70 L136.36,443.27 L139.00,443.81 L141.64,444.32 L144.28,444.80 L146.93,445.25 L149.57,445.68 L152.22,446.09 L154.87,446.47 L157.52,446.83 L160.18,447.17 L162.83,447.49 L165.48,447.79 L168.14,448.07 L170.80,448.34 L173.45,448.59 L176.11,448.82 L178.76,449.04 L181.42,449.25 L184.08,449.45 L186.73,449.63 L189.39,449.81 L192.05,449.98 L194.70,450.14 L197.36,450.30 L200.01,450.45 L202.66,450.59 L205.32,450.74 L207.97,450.88 L210.62,451.02 L213.27,451.17 L215.91,451.31 L218.56,451.46 L221.20,451.61 L223.85,451.76 L226.49,451.92 L229.12,452.09 L231.76,452.27 L234.39,452.45 L237.03,452.65 L239.66,452.86 L242.28,453.08" fill="none" stroke="#ff7f0e" stroke-width="0.9" stroke-linejoin="round" stroke-linecap="butt" stroke-opacity="0.8"/>
<path d="M36.70,280.16 L37.07,282.76 L37.42,285.36 L37.77,287.97 L38.11,290.58 L38.44,293.19 L38.77,295.81 L39.09,298.43 L39.41,301.05 L39.74,303.67 L40.06,306.30 L40.39,308.92 L40.72,311.55 L41.05,314.18 L41.40,316.81 L41.75,319.44 L42.11,322.07 L42.48,324.71 L42.86,327.34 L43.26,329.97 L43.67,332.60 L44.10,335.23 L44.55,337.86 L45.01,340.49 L45.50,343.12 L46.01,345.74 L46.55,348.37 L47.10,350.99 L47.69,353.61 L48.30,356.23 L48.94,358.84 L49.62,361.46 L50.32,364.07 L51.06,366.67 L51.84,369.27 L52.65,371.87 L53.49,374.45 L54.38,377.02 L55.31,379.57 L56.28,382.11 L57.29,384.62 L58.35,387.10 L59.45,389.56 L60.60,391.98 L61.80,394.37 L63.05,396.72 L64.36,399.04 L65.71,401.30 L67.12,403.52 L68.59,405.69 L70.11,407.81 L71.69,409.87 L73.34,411.87 L75.04,413.81 L76.81,415.68 L78.64,417.48 L80.54,419.22 L82.50,420.88 L84.52,422.47 L86.60,424.00 L88.74,425.46 L90.92,426.86 L93.16,428.20 L95.44,429.47 L97.77,430.69 L100.14,431.85 L102.54,432.96 L104.98,434.02 L107.45,435.02 L109.96,435.98 L112.49,436.89 L115.04,437.76 L117.61,438.58 L120.20,439.36 L122.80,440.10 L125.42,440.80 L128.05,441.47 L130.68,442.10 L133.32,442.70 L135.96,443.27 L138.60,443.81 L141.24,444.32 L143.88,444.80 L146.53,445.25 L149.17,445.68 L151.82,446.09 L154.47,446.47 L157.12,446.83 L159.78,447.17 L162.43,447.49 L165.08,447.79 L167.74,448.07 L170.40,448.34 L173.05,448.59 L175.71,448.82 L178.36,449.04 L181.02,449.25 L183.68,449.45 L186.33,449.63 L188.99,449.81 L191.65,449.98 L194.30,450.14 L196.96,450.30 L199.61,450.45 L202.26,450.59 L204.92,450.74 L207.57,450.88 L210.22,451.02 L212.87,451.17 L215.51,451.31 L218.16,451.46 L220.80,451.61 L223.45,451.76 L226.09,451.92 L228.72,452.09 L231.36,452.27 L233.99,452.45 L236.63,452.65 L239.26,452.86 L241.88,453.08" fill="none" stroke="#8c564b" stroke-width="0.9" stroke-linejoin="round" stroke-linecap="butt" stroke-opacity="0.45"/>
<line x1="26.15" y1="451.70" x2="135.95" y2="451.70" stroke="#ff7f0e" stroke-width="1.9" stroke-dasharray="1.9,3.77"/>
<line x1="26.15" y1="450.10" x2="124.15" y2="450.10" stroke="#8c564b" stroke-width="1.9" stroke-dasharray="1.9,3.77"/>
<path d="M28.40,349.40 L27.70,353.60" fill="none" stroke="#8c564b" stroke-width="1.15" stroke-linejoin="round" stroke-linecap="butt"/>
<path d="M27.50,353.20 C27.75,354.58 28.50,358.62 29.00,361.50 C29.50,364.38 29.87,366.98 30.50,370.50 C31.13,374.02 31.92,378.82 32.80,382.60 C33.68,386.38 34.67,389.42 35.80,393.20 C36.93,396.98 38.30,401.65 39.60,405.30 C40.90,408.95 42.18,411.97 43.60,415.10 C45.02,418.23 46.58,421.47 48.10,424.10 C49.62,426.73 50.98,428.63 52.70,430.90 C54.42,433.17 56.32,435.52 58.40,437.70 C60.48,439.88 62.75,442.20 65.20,444.00 C67.65,445.80 70.45,447.18 73.10,448.51 C75.75,449.83 78.45,450.68 81.10,451.96 C83.75,453.25 86.73,454.98 89.00,456.21 C91.27,457.45 91.97,458.39 94.70,459.38 C97.43,460.38 101.88,461.57 105.40,462.20 C108.92,462.83 111.33,463.02 115.80,463.18 C120.27,463.33 126.00,462.88 132.20,463.13 C138.40,463.38 146.07,464.14 153.00,464.70 C159.93,465.26 166.87,466.25 173.80,466.50 C180.73,466.75 187.67,466.42 194.60,466.20 C201.53,465.98 207.47,465.78 215.40,465.20 C223.33,464.62 237.73,463.12 242.20,462.70" fill="none" stroke="#8c564b" stroke-width="1.15" stroke-linejoin="round" stroke-linecap="butt" stroke-dasharray="6.9,1.7,1.1,1.7" stroke-opacity="0.9"/>
<path d="M29.10,361.70 C29.35,363.20 29.97,367.18 30.60,370.70 C31.23,374.22 32.02,379.02 32.90,382.80 C33.78,386.58 34.77,389.62 35.90,393.40 C37.03,397.18 38.40,401.85 39.70,405.50 C41.00,409.15 42.28,412.17 43.70,415.30 C45.12,418.43 46.68,421.67 48.20,424.30 C49.72,426.93 51.08,428.83 52.80,431.10 C54.52,433.37 56.42,435.72 58.50,437.90 C60.58,440.08 62.85,442.40 65.30,444.20 C67.75,446.00 70.55,447.38 73.20,448.71 C75.85,450.04 78.55,450.88 81.20,452.18 C83.85,453.48 86.83,455.23 89.10,456.49 C91.37,457.76 92.07,458.72 94.80,459.75 C97.53,460.79 101.98,462.07 105.50,462.70 C109.02,463.33 111.43,463.44 115.90,463.55 C120.37,463.65 126.10,463.11 132.30,463.34 C138.50,463.56 146.17,464.34 153.10,464.90 C160.03,465.46 166.97,466.45 173.90,466.70 C180.83,466.95 187.77,466.62 194.70,466.40 C201.63,466.18 207.57,465.98 215.50,465.40 C223.43,464.82 237.83,463.32 242.30,462.90" fill="none" stroke="#1f77b4" stroke-width="1.15" stroke-linejoin="round" stroke-linecap="butt" stroke-dasharray="6.9,1.7,1.1,1.7" stroke-dashoffset="8.43"/>
<path d="M27.30,352.90 C27.55,354.28 28.30,358.32 28.80,361.20 C29.30,364.08 29.67,366.68 30.30,370.20 C30.93,373.72 31.72,378.52 32.60,382.30 C33.48,386.08 34.47,389.12 35.60,392.90 C36.73,396.68 38.10,401.35 39.40,405.00 C40.70,408.65 41.98,411.67 43.40,414.80 C44.82,417.93 46.38,421.17 47.90,423.80 C49.42,426.43 50.78,428.33 52.50,430.60 C54.22,432.87 56.12,435.22 58.20,437.40 C60.28,439.58 62.55,441.90 65.00,443.70 C67.45,445.50 70.25,446.88 72.90,448.20 C75.55,449.52 78.25,450.37 80.90,451.60 C83.55,452.83 86.53,454.47 88.80,455.60 C91.07,456.73 91.77,457.55 94.50,458.40 C97.23,459.25 101.68,460.07 105.20,460.70 C108.72,461.33 111.13,461.85 115.60,462.20 C120.07,462.55 125.80,462.43 132.00,462.80 C138.20,463.17 145.87,463.83 152.80,464.40 C159.73,464.97 166.67,465.95 173.60,466.20 C180.53,466.45 187.47,466.12 194.40,465.90 C201.33,465.68 207.27,465.48 215.20,464.90 C223.13,464.32 237.53,462.82 242.00,462.40" fill="none" stroke="#ff7f0e" stroke-width="1.15" stroke-linejoin="round" stroke-linecap="butt" stroke-dasharray="6.9,1.7,1.1,1.7"/>
<path d="M27.10,467.30 L29.50,454.00 L32.30,445.50 L37.00,436.10 L41.70,433.20 L48.40,436.60 L59.70,443.70 L74.00,448.70 L85.40,451.50 L96.70,454.30 L108.10,456.60 L132.00,458.60 L173.60,461.00 L242.00,461.50" fill="none" stroke="#1f77b4" stroke-width="2.6" stroke-linejoin="round" stroke-linecap="butt"/>
<path d="M26.60,455.00 L29.50,449.30 L37.00,435.10 L40.80,433.70 L48.40,436.10 L59.70,443.20 L74.00,447.70 L85.40,450.00 L96.70,452.80 L108.10,455.10 L132.00,457.60 L173.60,460.30 L242.00,460.80" fill="none" stroke="#ff7f0e" stroke-width="2.6" stroke-linejoin="round" stroke-linecap="butt"/>
<path d="M27.10,460.70 L29.50,448.40 L36.50,434.20 L41.70,432.30 L48.40,435.60 L59.70,442.70 L74.00,448.20 L85.40,450.50 L96.70,453.30 L108.10,455.60 L120.00,456.70 L132.00,457.60 L152.80,459.00 L173.60,460.30 L194.40,460.70 L215.20,460.70 L242.00,460.70" fill="none" stroke="#8c564b" stroke-width="2.6" stroke-linejoin="round" stroke-linecap="butt"/>
<path d="M291.70,281.06 L292.07,283.66 L292.42,286.26 L292.77,288.87 L293.11,291.48 L293.44,294.09 L293.77,296.71 L294.09,299.33 L294.41,301.95 L294.74,304.57 L295.06,307.20 L295.39,309.82 L295.72,312.45 L296.05,315.08 L296.40,317.71 L296.75,320.34 L297.11,322.97 L297.48,325.61 L297.86,328.24 L298.26,330.87 L298.67,333.50 L299.10,336.13 L299.55,338.76 L300.01,341.39 L300.50,344.02 L301.01,346.64 L301.55,349.27 L302.10,351.89 L302.69,354.51 L303.30,357.13 L303.94,359.74 L304.62,362.36 L305.32,364.97 L306.06,367.57 L306.84,370.17 L307.65,372.77 L308.49,375.35 L309.38,377.92 L310.31,380.47 L311.28,383.01 L312.29,385.52 L313.35,388.00 L314.45,390.46 L315.60,392.88 L316.80,395.27 L318.05,397.62 L319.36,399.94 L320.71,402.20 L322.12,404.42 L323.59,406.59 L325.11,408.71 L326.69,410.77 L328.34,412.77 L330.04,414.71 L331.81,416.58 L333.64,418.38 L335.54,420.12 L337.50,421.78 L339.52,423.37 L341.60,424.90 L343.74,426.36 L345.92,427.76 L348.16,429.10 L350.44,430.37 L352.77,431.59 L355.14,432.75 L357.54,433.86 L359.98,434.92 L362.45,435.92 L364.96,436.88 L367.49,437.79 L370.04,438.66 L372.61,439.48 L375.20,440.26 L377.80,441.00 L380.42,441.70 L383.05,442.37 L385.68,443.00 L388.32,443.60 L390.96,444.17 L393.60,444.71 L396.24,445.22 L398.88,445.70 L401.53,446.15 L404.17,446.58 L406.82,446.99 L409.47,447.37 L412.12,447.73 L414.78,448.07 L417.43,448.39 L420.08,448.69 L422.74,448.97 L425.40,449.24 L428.05,449.49 L430.71,449.72 L433.36,449.94 L436.02,450.15 L438.68,450.35 L441.33,450.53 L443.99,450.71 L446.65,450.88 L449.30,451.04 L451.96,451.20 L454.61,451.35 L457.26,451.49 L459.92,451.64 L462.57,451.78 L465.22,451.92 L467.87,452.07 L470.51,452.21 L473.16,452.36 L475.80,452.51 L478.45,452.66 L481.09,452.82 L483.72,452.99 L486.36,453.17 L488.99,453.35 L491.63,453.55 L494.26,453.76 L496.88,453.98" fill="none" stroke="#8c564b" stroke-width="0.9" stroke-linejoin="round" stroke-linecap="butt" stroke-opacity="0.75"/>
<path d="M292.60,280.16 L292.97,282.76 L293.32,285.36 L293.67,287.97 L294.01,290.58 L294.34,293.19 L294.67,295.81 L294.99,298.43 L295.31,301.05 L295.64,303.67 L295.96,306.30 L296.29,308.92 L296.62,311.55 L296.95,314.18 L297.30,316.81 L297.65,319.44 L298.01,322.07 L298.38,324.71 L298.76,327.34 L299.16,329.97 L299.57,332.60 L300.00,335.23 L300.45,337.86 L300.91,340.49 L301.40,343.12 L301.91,345.74 L302.45,348.37 L303.00,350.99 L303.59,353.61 L304.20,356.23 L304.84,358.84 L305.52,361.46 L306.22,364.07 L306.96,366.67 L307.74,369.27 L308.55,371.87 L309.39,374.45 L310.28,377.02 L311.21,379.57 L312.18,382.11 L313.19,384.62 L314.25,387.10 L315.35,389.56 L316.50,391.98 L317.70,394.37 L318.95,396.72 L320.26,399.04 L321.61,401.30 L323.02,403.52 L324.49,405.69 L326.01,407.81 L327.59,409.87 L329.24,411.87 L330.94,413.81 L332.71,415.68 L334.54,417.48 L336.44,419.22 L338.40,420.88 L340.42,422.47 L342.50,424.00 L344.64,425.46 L346.82,426.86 L349.06,428.20 L351.34,429.47 L353.67,430.69 L356.04,431.85 L358.44,432.96 L360.88,434.02 L363.35,435.02 L365.86,435.98 L368.39,436.89 L370.94,437.76 L373.51,438.58 L376.10,439.36 L378.70,440.10 L381.32,440.80 L383.95,441.47 L386.58,442.10 L389.22,442.70 L391.86,443.27 L394.50,443.81 L397.14,444.32 L399.78,444.80 L402.43,445.25 L405.07,445.68 L407.72,446.09 L410.37,446.47 L413.02,446.83 L415.68,447.17 L418.33,447.49 L420.98,447.79 L423.64,448.07 L426.30,448.34 L428.95,448.59 L431.61,448.82 L434.26,449.04 L436.92,449.25 L439.58,449.45 L442.23,449.63 L444.89,449.81 L447.55,449.98 L450.20,450.14 L452.86,450.30 L455.51,450.45 L458.16,450.59 L460.82,450.74 L463.47,450.88 L466.12,451.02 L468.77,451.17 L471.41,451.31 L474.06,451.46 L476.70,451.61 L479.35,451.76 L481.99,451.92 L484.62,452.09 L487.26,452.27 L489.89,452.45 L492.53,452.65 L495.16,452.86 L497.78,453.08" fill="none" stroke="#ff7f0e" stroke-width="0.9" stroke-linejoin="round" stroke-linecap="butt" stroke-opacity="0.8"/>
<line x1="281.15" y1="450.00" x2="380.85" y2="450.00" stroke="#8c564b" stroke-width="1.9" stroke-dasharray="1.9,3.77"/>
<line x1="281.15" y1="454.10" x2="408.75" y2="454.10" stroke="#ff7f0e" stroke-width="1.9" stroke-dasharray="1.9,3.77"/>
<path d="M285.10,357.10 C285.35,358.62 285.97,362.67 286.60,366.20 C287.23,369.73 288.02,374.53 288.90,378.30 C289.78,382.07 290.90,385.05 291.90,388.80 C292.90,392.55 293.60,396.72 294.90,400.80 C296.20,404.88 298.15,409.88 299.70,413.30 C301.25,416.72 302.50,418.63 304.20,421.30 C305.90,423.97 307.82,426.80 309.90,429.30 C311.98,431.80 314.43,434.25 316.70,436.30 C318.97,438.35 320.85,439.77 323.50,441.60 C326.15,443.43 329.57,445.67 332.60,447.30 C335.63,448.93 338.30,449.97 341.70,451.40 C345.10,452.83 349.22,454.55 353.00,455.90 C356.78,457.25 360.52,458.52 364.40,459.50 C368.28,460.48 372.32,461.03 376.30,461.80 C380.28,462.57 382.83,463.47 388.30,464.10 C393.77,464.73 402.17,465.15 409.10,465.60 C416.03,466.05 422.97,466.80 429.90,466.80 C436.83,466.80 443.77,466.05 450.70,465.60 C457.63,465.15 463.57,464.70 471.50,464.10 C479.43,463.50 493.83,462.35 498.30,462.00" fill="none" stroke="#8c564b" stroke-width="1.15" stroke-linejoin="round" stroke-linecap="butt" stroke-dasharray="6.9,1.7,1.1,1.7" stroke-dashoffset="31.81" stroke-opacity="0.9"/>
<path d="M283.30,352.50 C283.55,353.22 284.30,354.57 284.80,356.80 C285.30,359.03 285.67,362.37 286.30,365.90 C286.93,369.43 287.72,374.23 288.60,378.00 C289.48,381.77 290.60,384.75 291.60,388.50 C292.60,392.25 293.30,396.42 294.60,400.50 C295.90,404.58 297.85,409.58 299.40,413.00 C300.95,416.42 302.20,418.33 303.90,421.00 C305.60,423.67 307.52,426.50 309.60,429.00 C311.68,431.50 314.13,433.95 316.40,436.00 C318.67,438.05 320.55,439.47 323.20,441.30 C325.85,443.13 329.27,445.37 332.30,447.00 C335.33,448.63 338.00,449.67 341.40,451.10 C344.80,452.53 348.92,454.25 352.70,455.60 C356.48,456.95 360.22,458.22 364.10,459.20 C367.98,460.18 372.02,460.73 376.00,461.50 C379.98,462.27 382.53,463.17 388.00,463.80 C393.47,464.43 401.87,464.85 408.80,465.30 C415.73,465.75 422.67,466.50 429.60,466.50 C436.53,466.50 443.47,465.75 450.40,465.30 C457.33,464.85 463.27,464.40 471.20,463.80 C479.13,463.20 493.53,462.05 498.00,461.70" fill="none" stroke="#1f77b4" stroke-width="1.15" stroke-linejoin="round" stroke-linecap="butt" stroke-dasharray="6.9,1.7,1.1,1.7" stroke-dashoffset="27.25"/>
<path d="M282.50,325.30 C282.63,326.93 283.05,331.45 283.30,335.10 C283.55,338.75 283.75,343.67 284.00,347.20 C284.25,350.73 284.42,353.27 284.80,356.30 C285.18,359.33 285.67,361.87 286.30,365.40 C286.93,368.93 287.72,373.73 288.60,377.50 C289.48,381.27 290.60,384.25 291.60,388.00 C292.60,391.75 293.87,397.43 294.60,400.00 C295.33,402.57 295.20,401.32 296.00,403.40 C296.80,405.48 298.08,409.67 299.40,412.50 C300.72,415.33 302.20,417.75 303.90,420.40 C305.60,423.05 307.52,425.93 309.60,428.40 C311.68,430.87 314.13,433.22 316.40,435.20 C318.67,437.18 320.55,438.60 323.20,440.30 C325.85,442.00 329.27,443.98 332.30,445.40 C335.33,446.82 338.00,447.67 341.40,448.80 C344.80,449.93 348.92,451.25 352.70,452.20 C356.48,453.15 360.22,453.83 364.10,454.50 C367.98,455.17 372.02,455.37 376.00,456.20 C379.98,457.03 382.53,458.67 388.00,459.50 C393.47,460.33 401.87,460.65 408.80,461.20 C415.73,461.75 422.67,462.42 429.60,462.80 C436.53,463.18 443.47,463.38 450.40,463.50 C457.33,463.62 463.27,463.67 471.20,463.50 C479.13,463.33 493.53,462.67 498.00,462.50" fill="none" stroke="#ff7f0e" stroke-width="1.15" stroke-linejoin="round" stroke-linecap="butt" stroke-dasharray="6.9,1.7,1.1,1.7"/>
<path d="M282.60,464.00 L285.00,451.20 L289.20,441.70 L293.00,434.20 L296.80,433.20 L307.30,438.40 L318.70,443.60 L330.00,447.50 L341.40,450.60 L352.70,453.40 L364.10,455.60 L376.00,457.50 L388.00,459.00 L429.60,460.60 L498.00,461.20" fill="none" stroke="#1f77b4" stroke-width="2.6" stroke-linejoin="round" stroke-linecap="butt"/>
<path d="M282.60,458.80 L283.60,452.20 L286.40,447.40 L291.10,436.10 L296.80,430.90 L300.60,432.40 L307.30,436.60 L318.70,441.80 L330.00,445.70 L341.40,448.60 L352.70,451.20 L364.10,453.20 L376.00,455.20 L388.00,457.60 L429.60,459.60 L498.00,460.20" fill="none" stroke="#ff7f0e" stroke-width="2.6" stroke-linejoin="round" stroke-linecap="butt"/>
<path d="M281.70,450.30 L285.50,446.50 L292.10,432.30 L295.90,432.60 L307.30,437.40 L318.70,442.60 L330.00,446.50 L341.40,449.40 L352.70,452.20 L364.10,453.90 L376.00,455.60 L388.00,457.60 L408.80,459.20 L429.60,460.10 L450.40,460.30 L471.20,460.30 L498.00,460.70" fill="none" stroke="#8c564b" stroke-width="2.6" stroke-linejoin="round" stroke-linecap="butt"/>
<path d="M542.40,497.10 L546.00,496.30" fill="none" stroke="#ff7f0e" stroke-width="1.15" stroke-linejoin="round" stroke-linecap="butt"/>
<path d="M579.80,495.00 L584.00,492.90 L593.30,489.40 L597.50,487.70 L600.60,489.40 L610.00,485.70 L614.10,473.20 L617.20,475.30 L621.40,469.00 L622.40,462.80 L624.50,400.40 L625.70,394.50 L626.10,388.20 L627.30,381.10 L630.40,376.30 L635.20,381.10 L639.90,382.70 L643.10,380.30 L644.70,375.20 L647.90,374.40 L659.80,369.20 L663.70,366.90 L666.90,360.50 L670.00,357.40 L674.00,356.20 L677.20,355.80 L681.00,348.60 L685.00,349.90 L690.30,347.20 L694.20,341.30 L698.20,340.00 L702.20,340.60 L710.10,331.40 L715.40,330.40 L719.40,330.10 L727.30,322.10 L735.20,317.20" fill="none" stroke="#ff7f0e" stroke-width="1.15" stroke-linejoin="round" stroke-linecap="butt" stroke-dasharray="6.9,1.7,1.1,1.7"/>
<path d="M612.50,398.10 L617.80,386.60 L622.30,392.00 L625.70,391.40 L630.40,393.00 L638.30,386.60 L641.50,382.70 L645.50,385.40 L655.00,376.30 L659.00,381.10 L666.00,382.70 L672.40,378.00 L679.50,380.30 L684.30,381.10 L694.60,375.90 L700.00,378.00 L705.00,378.50 L714.00,372.00 L721.60,370.00 L724.00,374.00 L731.10,371.60 L735.80,374.40" fill="none" stroke="#1f77b4" stroke-width="1.15" stroke-linejoin="round" stroke-linecap="butt" stroke-dasharray="6.9,1.7,1.1,1.7"/>
<path d="M643.10,381.00 L651.00,388.20 L655.80,379.50 L664.50,388.20 L672.40,375.60 L678.00,380.30 L685.00,381.10 L691.40,380.30 L697.00,373.20 L705.00,380.00 L714.00,375.00 L724.00,380.00 L735.80,370.80" fill="none" stroke="#8c564b" stroke-width="1.15" stroke-linejoin="round" stroke-linecap="butt" stroke-dasharray="6.9,1.7,1.1,1.7"/>
<path d="M588.10,456.10 L592.30,444.10 L596.40,440.90 L600.60,434.70 L604.70,417.00 L609.90,411.80 L614.10,404.60 L618.60,394.50 L622.50,386.60 L625.70,374.80 L629.60,365.30 L633.60,363.30 L638.30,365.70 L643.10,359.70 L646.60,351.90 L650.60,347.20 L655.20,345.00 L659.80,347.00 L663.80,345.90 L667.80,340.60 L672.40,336.00 L677.00,334.00 L682.30,333.40 L688.90,330.70 L692.90,328.10 L698.20,323.40 L703.50,320.80 L710.10,319.50 L715.40,316.60 L719.40,315.50 L724.70,311.50 L731.30,306.90 L735.90,303.60" fill="none" stroke="#ff7f0e" stroke-width="2.6" stroke-linejoin="round" stroke-linecap="butt"/>
<path d="M600.60,449.90 L604.70,410.80 L609.90,394.50 L613.00,384.20 L617.80,378.70 L622.50,382.70 L625.70,389.80 L634.40,370.80 L643.10,378.70 L647.90,376.30 L655.80,367.30 L664.50,378.70 L673.20,367.30 L677.20,367.30 L685.10,378.70 L694.00,367.30 L697.90,368.00 L705.80,377.90 L714.50,367.30 L718.50,369.20 L726.40,378.70 L735.80,367.60" fill="none" stroke="#1f77b4" stroke-width="2.6" stroke-linejoin="round" stroke-linecap="butt"/>
<path d="M638.30,375.20 L643.10,381.00 L647.90,378.70 L655.80,368.40 L664.50,380.30 L673.20,370.00 L676.40,370.80 L685.10,382.30 L694.00,372.00 L697.90,374.80 L701.90,381.10 L705.80,382.30 L714.50,372.00 L723.20,382.70 L727.20,381.10 L735.80,372.00" fill="none" stroke="#8c564b" stroke-width="2.6" stroke-linejoin="round" stroke-linecap="butt"/>
<rect x="22.7" y="13.3" width="220.2" height="220" fill="none" stroke="#9a9a9a" stroke-width="1.4"/>
<rect x="278.3" y="13.3" width="220.2" height="220" fill="none" stroke="#9a9a9a" stroke-width="1.4"/>
<rect x="533.8" y="13.3" width="220.2" height="220" fill="none" stroke="#9a9a9a" stroke-width="1.4"/>
<rect x="22.7" y="280.5" width="220.2" height="220" fill="none" stroke="#9a9a9a" stroke-width="1.4"/>
<rect x="278.3" y="280.5" width="220.2" height="220" fill="none" stroke="#9a9a9a" stroke-width="1.4"/>
<rect x="533.5" y="280.5" width="220.2" height="220" fill="none" stroke="#9a9a9a" stroke-width="1.4"/>
<rect x="29.1" y="19.4" width="89.7" height="59.8" rx="2.5" fill="#fff" fill-opacity="0.85" stroke="#dcdcdc" stroke-width="0.9"/>
<line x1="33.9" y1="28.9" x2="60.3" y2="28.9" stroke="#888" stroke-width="1.1"/>
<line x1="33.6" y1="47.7" x2="60.6" y2="47.7" stroke="#000" stroke-width="2.6"/>
<line x1="33.9" y1="67" x2="60.3" y2="67" stroke="#444" stroke-width="1.4" stroke-dasharray="6.9,1.7,1.1,1.7"/>
<text x="69.6" y="34.1" font-size="13.5" text-anchor="start" textLength="9.2" lengthAdjust="spacingAndGlyphs">Ω</text>
<text x="69.6" y="52.8" font-size="13.5" text-anchor="start" textLength="44.6" lengthAdjust="spacingAndGlyphs">Ω − <tspan font-style="italic">κ</tspan>/2</text>
<text x="69.6" y="72.1" font-size="13.5" text-anchor="start" textLength="44.4" lengthAdjust="spacingAndGlyphs">Ω − <tspan font-style="italic">ν</tspan>/2</text>
<rect x="166.6" y="19.5" width="69.5" height="57.6" rx="2.5" fill="#fff" fill-opacity="0.85" stroke="#dcdcdc" stroke-width="0.9"/>
<line x1="171.6" y1="28.9" x2="197.7" y2="28.9" stroke="#1f77b4" stroke-opacity="0.5" stroke-width="1.4"/>
<line x1="171.6" y1="47.1" x2="197.7" y2="47.1" stroke="#ff7f0e" stroke-opacity="0.5" stroke-width="1.4"/>
<line x1="171.6" y1="65" x2="197.7" y2="65" stroke="#8c564b" stroke-opacity="0.5" stroke-width="1.4"/>
<text x="207.3" y="33.8" font-size="13.5" text-anchor="start" textLength="9.6" lengthAdjust="spacingAndGlyphs">C</text>
<text x="207.8" y="51.7" font-size="13.5" text-anchor="start" textLength="23.6" lengthAdjust="spacingAndGlyphs"><tspan font-style="italic">BF</tspan><tspan font-size="9.5" dy="2">0</tspan></text>
<text x="208.5" y="69.9" font-size="13.5" text-anchor="start" textLength="22.6" lengthAdjust="spacingAndGlyphs"><tspan font-style="italic">AB</tspan><tspan font-size="9.5" dy="2">1</tspan></text>
<rect x="539.9" y="286.3" width="75.7" height="40.1" rx="2.5" fill="#fff" fill-opacity="0.85" stroke="#dcdcdc" stroke-width="0.9"/>
<line x1="544.2" y1="296.5" x2="571.9" y2="296.5" stroke="#000" stroke-width="2.4"/>
<line x1="544.4" y1="314.5" x2="571.4" y2="314.5" stroke="#000" stroke-width="1.1" stroke-dasharray="6.9,1.7,1.1,1.7"/>
<text x="581.6" y="301.1" font-size="13.5" text-anchor="start" textLength="24.4" lengthAdjust="spacingAndGlyphs"><tspan font-style="italic">R</tspan><tspan font-size="9.5" dy="2">ILR</tspan></text>
<text x="581.6" y="319.3" font-size="13.5" text-anchor="start" textLength="29" lengthAdjust="spacingAndGlyphs"><tspan font-style="italic">R</tspan><tspan font-size="9.5" dy="1.5">vILR</tspan></text>
</svg></body></html>
